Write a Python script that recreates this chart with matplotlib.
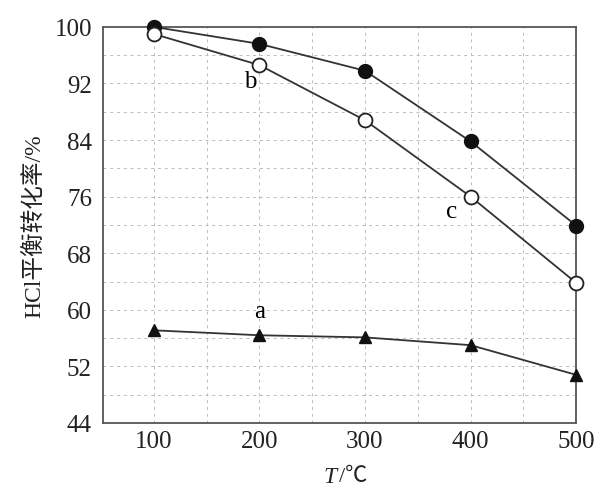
import matplotlib.pyplot as plt
import numpy as np

plt.rcParams['font.family'] = ['Liberation Serif', 'Noto Sans CJK SC']

T = [100, 200, 300, 400, 500]
conv_filled = [100.0, 97.6, 93.8, 83.8, 71.9]   # 实心圆
conv_b = [99.0, 94.6, 86.8, 76.0, 63.8]         # 空心圆 b/c
conv_a = [57.1, 56.4, 56.1, 55.0, 50.8]         # 三角 a

yticks = [44, 52, 60, 68, 76, 84, 92, 100]
xticks = [100, 200, 300, 400, 500]

fig = plt.figure(figsize=(5.99, 4.89), dpi=100)
ax = fig.add_axes([0.172, 0.133, 0.79, 0.81])

# 虚线网格
for xv in np.arange(100, 500, 50):
    ax.axvline(xv, color='#bbbbbb', lw=0.7, ls=(0, (3, 4)), zorder=0)
for yv in np.arange(48, 100, 4):
    ax.axhline(yv, color='#bbbbbb', lw=0.7, ls=(0, (3, 4)), zorder=0)

ax.plot(T, conv_filled, '-o', color='#333333', lw=1.3, ms=10,
        mfc='#111111', mec='#111111', zorder=3, clip_on=False)
ax.plot(T, conv_b, '-o', color='#333333', lw=1.3, ms=10,
        mfc='white', mec='#222222', mew=1.3, zorder=3, clip_on=False)
ax.plot(T, conv_a, '-^', color='#333333', lw=1.3, ms=9,
        mfc='#111111', mec='#111111', zorder=3, clip_on=False)

ax.text(191, 92.4, 'b', fontsize=18, ha='center', va='center')
ax.text(382, 74.0, 'c', fontsize=18, ha='center', va='center')
ax.text(200, 59.8, 'a', fontsize=18, ha='center', va='center')

ax.set_xlim(52, 500)
ax.set_ylim(44, 100)
ax.set_xticks(xticks)
ax.set_yticks(yticks)
ax.tick_params(length=0, labelsize=18, colors='#222222')
ax.tick_params(axis='y', pad=8)
ax.tick_params(axis='x', pad=5)
for s in ax.spines.values():
    s.set_color('#555555')
    s.set_linewidth(1.3)

ax.set_ylabel('HCl平衡转化率/%', fontsize=17, labelpad=6, color='#222222')

# 横轴标题：斜体 T 加 /℃
fig.text(0.5626, 0.0245, 'T', fontsize=17, style='italic',
         ha='right', va='center', color='#222222')
fig.text(0.5660, 0.0245, '/℃', fontsize=16,
         ha='left', va='center', color='#222222')

fig.savefig('out.png', dpi=100, facecolor='white')
